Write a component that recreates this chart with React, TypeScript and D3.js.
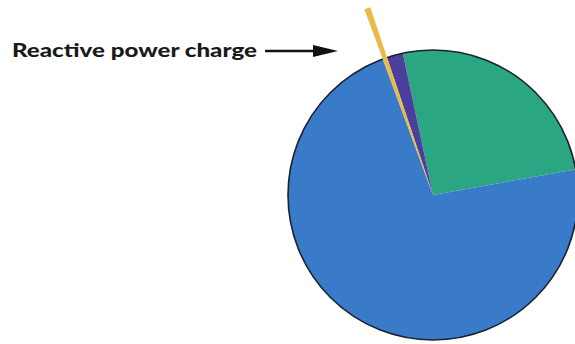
import React from "react";
import * as d3 from "d3";

// Share of the electricity bill by component (percent)
const categories = ["Energy charge", "Demand charge", "Reactive power charge", "Other charges"];
const shares = [72.2, 25.5, 0.5, 1.8];
const colors = ["#3a7bc9", "#2aa682", "#e7bb45", "#4b3e9c"];
const calloutLabel = "Reactive power charge";

const W = 575;
const H = 344;
const cx = 433;
const cy = 195;
const r = 145;

export default function App() {
  // Slice order around the pie, clockwise from the top-left: demand, energy, reactive, other
  const order = [1, 0, 2, 3];
  const data = order.map((i) => ({ name: categories[i], value: shares[i], color: colors[i] }));
  const startAngle = (-12 * Math.PI) / 180;
  const pie = d3
    .pie<{ name: string; value: number; color: string }>()
    .sort(null)
    .value((d) => d.value)
    .startAngle(startAngle)
    .endAngle(startAngle + 2 * Math.PI);
  const arcs = pie(data);
  const arc = d3.arc<d3.PieArcDatum<any>>().innerRadius(0);

  return (
    <svg
      width={W}
      height={H}
      style={{ position: "absolute", left: 0, top: 0, background: "#fff" }}
    >
      <g transform={`translate(${cx},${cy})`}>
        {arcs
          .filter((a) => a.data.name !== calloutLabel)
          .map((a) => (
            <path key={a.data.name} d={arc.outerRadius(r)(a) as string} fill={a.data.color} />
          ))}
        <circle r={r} fill="none" stroke="#1c2230" strokeWidth={1.6} />
        {arcs
          .filter((a) => a.data.name === calloutLabel)
          .map((a) => (
            <path key={a.data.name} d={arc.outerRadius(198)(a) as string} fill={a.data.color} />
          ))}
      </g>
      <text
        x={12}
        y={57}
        fontFamily="Lato, 'Open Sans', sans-serif"
        fontWeight={900}
        fontSize={18}
        fill="#1a1a1a"
        textLength={245}
        lengthAdjust="spacingAndGlyphs"
      >
        {calloutLabel}
      </text>
      <line x1={265} y1={51} x2={316} y2={51} stroke="#111" strokeWidth={2.6} />
      <path d="M338,51 L313,45 L313,57 Z" fill="#111" />
    </svg>
  );
}
